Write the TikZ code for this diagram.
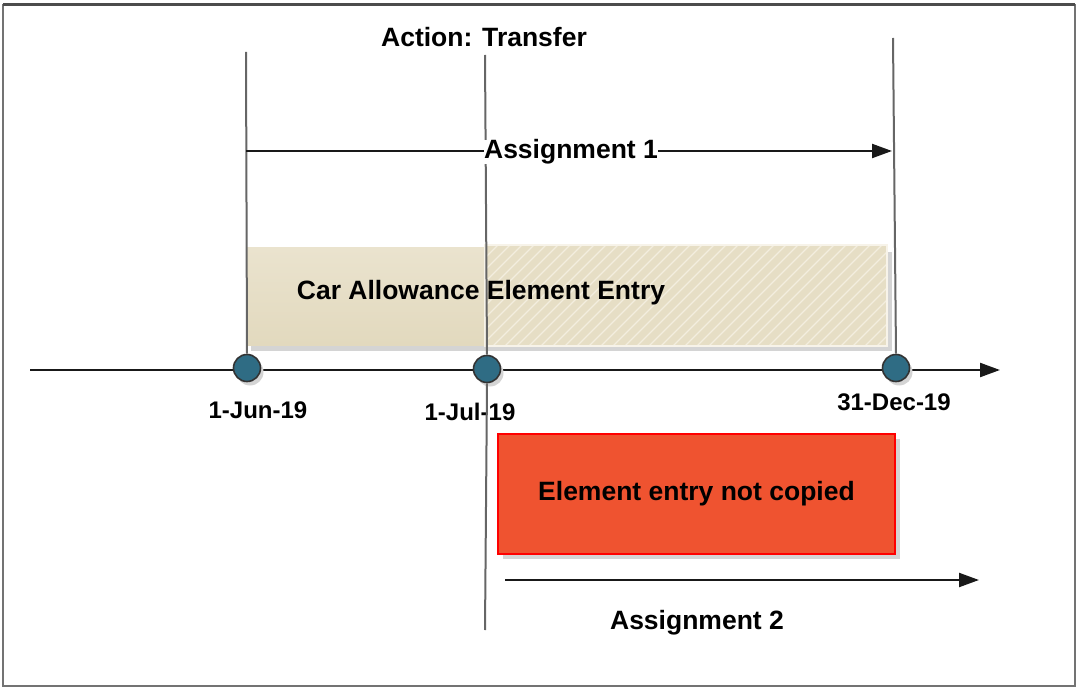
\documentclass[tikz,border=0pt]{standalone}
\usepackage{fontspec}
\setmainfont{Liberation Sans}
\usetikzlibrary{arrows.meta}
\definecolor{beigeA}{HTML}{EAE3CE}
\definecolor{beigeB}{HTML}{E2D9BE}
\definecolor{beigeH}{HTML}{E6DEC5}
\definecolor{stripe}{HTML}{F3EEDF}
\definecolor{dotblue}{HTML}{2F6C84}
\definecolor{redfill}{HTML}{EF5330}
\definecolor{shadowgray}{HTML}{D4D4D4}
\begin{document}
\begin{tikzpicture}[x=1pt,y=-1pt,
  lbl/.style={font=\fontsize{26.5}{31}\selectfont\bfseries, inner sep=1pt},
  datelbl/.style={font=\fontsize{24}{29}\selectfont\bfseries, inner sep=0pt},
  vline/.style={draw=black!60, line width=2pt},
  tipstyle/.style={-{Triangle[length=20pt,width=14pt]}},
  axisline/.style={draw=black!90, line width=2.3pt, tipstyle},
  dot/.style={circle, fill=dotblue, draw=black!80, line width=1.6pt, minimum size=27pt, inner sep=0pt},
  dotshadow/.style={circle, fill=shadowgray, minimum size=27pt, inner sep=0pt},
  redbox/.style={draw=red, fill=redfill, line width=1.4pt, minimum width=397pt, minimum height=120pt, inner sep=0pt}]
\useasboundingbox (0,0) rectangle (1077,687);
% frame
\draw[black!55, line width=1.4pt] (3,686) -- (3,5) -- (1075,5) -- (1075,686) -- cycle;
\draw[black!70, line width=3pt] (3,4.5) -- (1075,4.5);
% beige box shadow
\fill[shadowgray] (251,252) rectangle (892,351);
% left solid part
\shade[top color=beigeA, bottom color=beigeB] (246,248) rectangle (485,345);
% right hatched part
\fill[beigeH] (485,245) rectangle (887,346);
\begin{scope}
  \clip (485,245) rectangle (887,346);
  \foreach \i in {0,...,44} {
    \draw[stripe, line width=1.3pt] ({385+\i*12},346) -- ++(101,-101);
  }
\end{scope}
\draw[stripe!70!white, line width=1.2pt] (485,245) rectangle (887,346);
\node[lbl] (car) at (481,293) {Car Allowance Element Entry};
% title
\node[lbl] (title) at (484,37) {Action: Transfer};
% dates
\node[datelbl] (l1) at (258,410) {1-Jun-19};
\node[datelbl] (l2) at (470,412) {1-Jul-19};
\node[datelbl] (l3) at (894,402) {31-Dec-19};
% axis
\coordinate (a0) at (30,370);
\coordinate (a1) at (1000,370);
\draw[axisline] (a0) -- (a1);
% circles
\node[dotshadow] at (250,372) {};
\node[dotshadow] at (490,373) {};
\node[dotshadow] at (899,372) {};
\node[dot] (d1) at (247,368) {};
\node[dot] (d2) at (487,369) {};
\node[dot] (d3) at (896,368) {};
% vertical lines
\coordinate (t1) at (246,52);
\coordinate (t2) at (485,55);
\coordinate (b2) at (485,630);
\coordinate (t3) at (893,38);
\draw[vline] (t1) -- (d1.north);
\draw[vline] (t3) -- (d3.north);
\draw[vline] (t2) -- (d2.north);
\draw[vline] (d2.south) -- (b2);
% assignment 1
\coordinate (s1) at (246,151);
\coordinate (e1) at (892,151);
\draw[black!90, line width=2.2pt, tipstyle] (s1) -- (e1);
\node[lbl, fill=white, inner sep=0pt] (as1) at (571,152) {Assignment 1};
% red box
\fill[shadowgray] (503,439) rectangle (900,559);
\node[redbox] (rb) at (696.5,494) {};
\node[lbl] (rbt) at (rb.center) {Element entry not copied};
% assignment 2
\coordinate (s2) at (505,580);
\coordinate (e2) at (979,580);
\draw[black!90, line width=2.2pt, tipstyle] (s2) -- (e2);
\node[lbl] (as2) at (697,623) {Assignment 2};
\end{tikzpicture}
\end{document}
